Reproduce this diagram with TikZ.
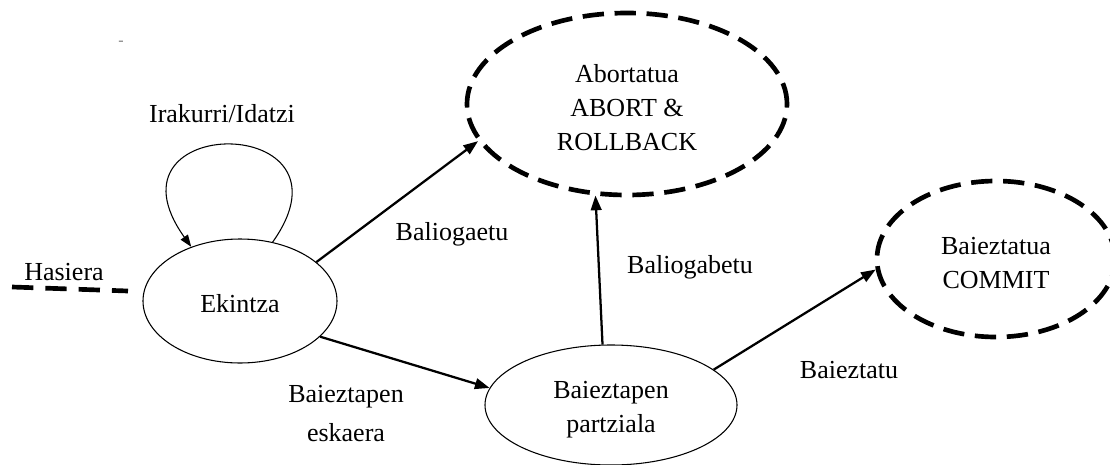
\documentclass[tikz,border=0pt]{standalone}
\usepackage{fontspec}
\setmainfont{Liberation Serif}
\usetikzlibrary{shapes.geometric,arrows.meta}

\begin{document}
\begin{tikzpicture}[x=0.75pt,y=-0.75pt,
  every node/.append style={font=\fontsize{19.5pt}{25.5pt}\selectfont},
  egoera/.style={ellipse,draw,line width=0.8pt,inner sep=0pt,align=center,text depth=0pt},
  amaiera/.style={ellipse,draw,line width=3.5pt,dash pattern=on 16pt off 8pt,inner sep=0pt,align=center,text depth=0pt},
  trans/.style={-{Triangle[length=11pt,width=8pt]},line width=1.7pt},
  etiketa/.style={anchor=base,align=center,inner sep=0pt}]
\useasboundingbox (0,0) rectangle (1110,464);

% states
\node[egoera,minimum width=145.5pt,minimum height=93pt,text height=16.5pt] (ekintza) at (240,301) {Ekintza};
\node[amaiera,minimum width=240pt,minimum height=136.5pt,text height=69pt] (abortatua) at (627,104) {Abortatua\\ABORT \&\\ROLLBACK};
\node[amaiera,minimum width=178.5pt,minimum height=117pt,text height=43.5pt] (baieztatua) at (996,259) {Baieztatua\\COMMIT};
\node[egoera,minimum width=189pt,minimum height=90pt,text height=40.5pt] (partziala) at (611,405) {Baieztapen\\partziala};

% start line
\coordinate (hasA) at (12,287);
\coordinate (hasB) at (128,291);
\draw[line width=3.5pt,dash pattern=on 16pt off 9pt] (hasA)--(hasB);
\node[etiketa] (hasiera) at (64,280) {Hasiera};

% self loop on Ekintza
\draw[line width=0.8pt,-{Triangle[length=9pt,width=6.5pt]}] (ekintza.61) .. controls (365,112) and (95,112) .. (ekintza.132);
\node[etiketa] (irakurri) at (222,122) {Irakurri/Idatzi};

% transitions
\draw[trans] (ekintza.27)--(abortatua.194);
\draw[trans] (ekintza.336)--(partziala.172);
\draw[trans] (partziala.98)--(abortatua.251);
\draw[trans] (partziala.19)--(baieztatua.185);

\node[etiketa] (baliogaetu) at (452,240) {Baliogaetu};
\node[etiketa] (baliogabetu) at (690,273) {Baliogabetu};
\node[etiketa,font=\fontsize{19.5pt}{29.25pt}\selectfont] (eskaera) at (346,441) {Baieztapen\\eskaera};
\node[etiketa] (baieztatu) at (849,378) {Baieztatu};

\node[text=gray,font=\fontsize{12pt}{12pt}\selectfont] (marra) at (121,43) {-};
\end{tikzpicture}
\end{document}
